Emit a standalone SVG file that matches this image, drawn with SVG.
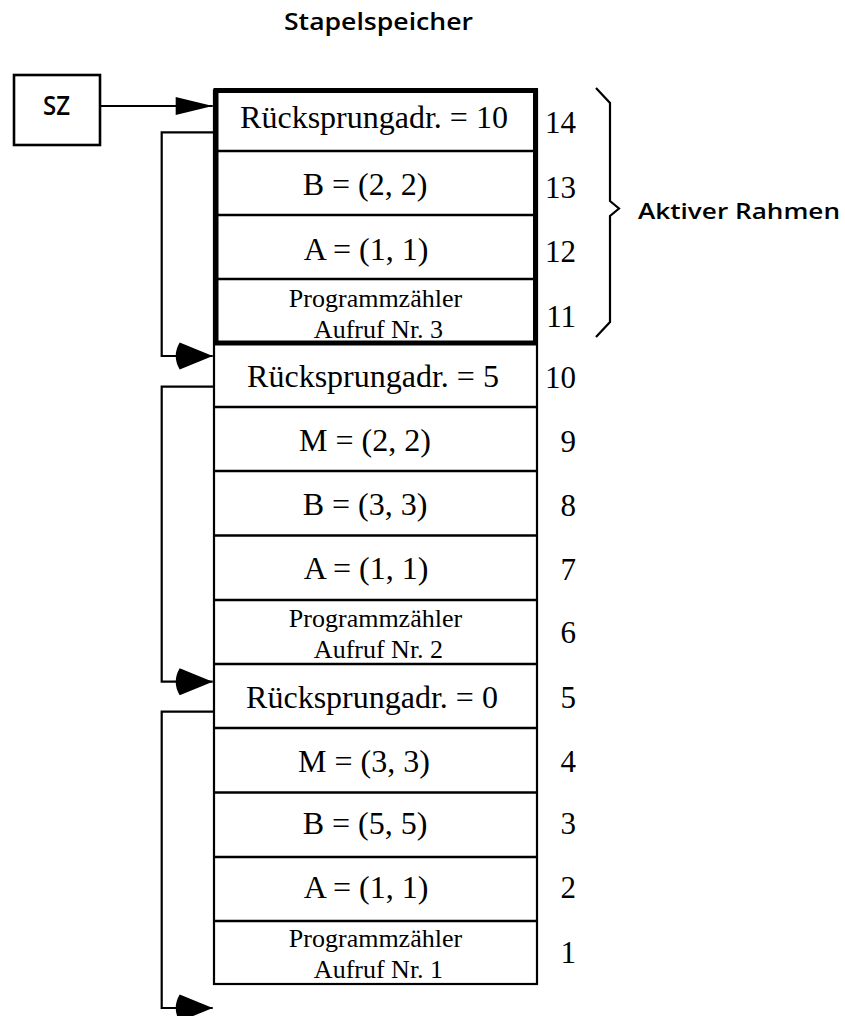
<svg xmlns="http://www.w3.org/2000/svg" width="845" height="1016" viewBox="0 0 845 1016">
  <style>
    .cell { fill: #fff; stroke: #000; stroke-width: 2.2; }
    .div { stroke: #000; stroke-width: 2.4; }
    .frame { fill: none; stroke: #000; stroke-width: 5; }
    .lbl { font-family: "Liberation Serif", "Times New Roman", serif; font-size: 32px; fill: #000; text-anchor: middle; }
    .lbl2 { font-family: "Liberation Serif", "Times New Roman", serif; font-size: 26px; fill: #000; text-anchor: middle; }
    .num { font-family: "Liberation Serif", "Times New Roman", serif; font-size: 31px; fill: #000; text-anchor: end; }
    .sans { font-family: "Open Sans", "DejaVu Sans", sans-serif; font-weight: 600; fill: #000; }
    .wire { fill: none; stroke: #000; stroke-width: 2.2; }
  </style>
  <defs>
    <marker id="headRound" markerUnits="userSpaceOnUse" viewBox="-38 -14 39 28" markerWidth="39" markerHeight="28" refX="0" refY="0" orient="auto">
      <path d="M0,0 L-33,-13.5 Q-41,0 -33,13.5 Z" fill="#000"/>
    </marker>
    <marker id="headSharp" markerUnits="userSpaceOnUse" viewBox="-38 -10 39 20" markerWidth="39" markerHeight="20" refX="0" refY="0" orient="auto">
      <path d="M0,0 L-37,-9 L-37,9 Z" fill="#000"/>
    </marker>
  </defs>

  <!-- title -->
  <text class="sans" x="284" y="30" font-size="23" textLength="189" lengthAdjust="spacingAndGlyphs">Stapelspeicher</text>

  <!-- stack pointer box -->
  <g id="sz">
    <rect x="14" y="75" width="86" height="70" fill="#fff" stroke="#000" stroke-width="2.6"/>
    <text class="sans" x="43" y="115" font-size="27" font-weight="700" textLength="27" lengthAdjust="spacingAndGlyphs">SZ</text>
  </g>

  <!-- stack body -->
  <g id="stack">
    <rect class="cell" x="214" y="90.5" width="323" height="893.5"/>
    <line class="div" x1="214" y1="151" x2="537" y2="151"/>
    <line class="div" x1="214" y1="215" x2="537" y2="215"/>
    <line class="div" x1="214" y1="279" x2="537" y2="279"/>
    <line class="div" x1="214" y1="407" x2="537" y2="407"/>
    <line class="div" x1="214" y1="471" x2="537" y2="471"/>
    <line class="div" x1="214" y1="535.5" x2="537" y2="535.5"/>
    <line class="div" x1="214" y1="600" x2="537" y2="600"/>
    <line class="div" x1="214" y1="664" x2="537" y2="664"/>
    <line class="div" x1="214" y1="728" x2="537" y2="728"/>
    <line class="div" x1="214" y1="792.5" x2="537" y2="792.5"/>
    <line class="div" x1="214" y1="857" x2="537" y2="857"/>
    <line class="div" x1="214" y1="921" x2="537" y2="921"/>
    <line class="div" x1="214" y1="343" x2="537" y2="343"/>
    <!-- active frame -->
    <rect class="frame" x="216" y="90.5" width="319.5" height="252.5"/>
  </g>

  <g id="cell14"><text class="lbl" x="374" y="128">Rücksprungadr. = 10</text><text class="num" x="576" y="133">14</text></g>
  <g id="cell13"><text class="lbl" x="365" y="195">B = (2, 2)</text><text class="num" x="576" y="198">13</text></g>
  <g id="cell12"><text class="lbl" x="366" y="260">A = (1, 1)</text><text class="num" x="576" y="262">12</text></g>
  <g id="cell11"><text class="lbl2" x="375.5" y="307">Programmzähler</text><text class="lbl2" x="378.5" y="338">Aufruf Nr. 3</text><text class="num" x="576" y="327">11</text></g>
  <g id="cell10"><text class="lbl" x="373" y="387">Rücksprungadr. = 5</text><text class="num" x="576" y="388">10</text></g>
  <g id="cell9"><text class="lbl" x="365" y="451">M = (2, 2)</text><text class="num" x="576" y="452">9</text></g>
  <g id="cell8"><text class="lbl" x="365" y="515">B = (3, 3)</text><text class="num" x="576" y="516">8</text></g>
  <g id="cell7"><text class="lbl" x="366" y="579">A = (1, 1)</text><text class="num" x="576" y="580">7</text></g>
  <g id="cell6"><text class="lbl2" x="375.5" y="627">Programmzähler</text><text class="lbl2" x="378.5" y="658">Aufruf Nr. 2</text><text class="num" x="576" y="643">6</text></g>
  <g id="cell5"><text class="lbl" x="372" y="708">Rücksprungadr. = 0</text><text class="num" x="576" y="708">5</text></g>
  <g id="cell4"><text class="lbl" x="364" y="772">M = (3, 3)</text><text class="num" x="576" y="772">4</text></g>
  <g id="cell3"><text class="lbl" x="365" y="834">B = (5, 5)</text><text class="num" x="576" y="834">3</text></g>
  <g id="cell2"><text class="lbl" x="366" y="898">A = (1, 1)</text><text class="num" x="576" y="898">2</text></g>
  <g id="cell1"><text class="lbl2" x="375.5" y="947">Programmzähler</text><text class="lbl2" x="378.5" y="978">Aufruf Nr. 1</text><text class="num" x="576" y="963">1</text></g>

  <!-- active frame brace -->
  <g id="brace">
    <path d="M596,88 L610,103 L610,201 L619,208.5 L610,216 L610,322 L596,337" fill="none" stroke="#000" stroke-width="2.2"/>
    <text class="sans" x="638" y="219" font-size="22" textLength="202" lengthAdjust="spacingAndGlyphs">Aktiver Rahmen</text>
  </g>

  <!-- pointer and return-address links -->
  <g id="connectors">
    <path class="wire" d="M100,106 L212.7,106" marker-end="url(#headSharp)"/>
    <path class="wire" d="M214,132.3 L161.7,132.3 L161.7,356 L212.7,356" marker-end="url(#headRound)"/>
    <path class="wire" d="M214,386.7 L161.7,386.7 L161.7,681.7 L212.7,681.7" marker-end="url(#headRound)"/>
    <path class="wire" d="M214,711.7 L161.7,711.7 L161.7,1008 L212.7,1008" marker-end="url(#headRound)"/>
  </g>
</svg>
